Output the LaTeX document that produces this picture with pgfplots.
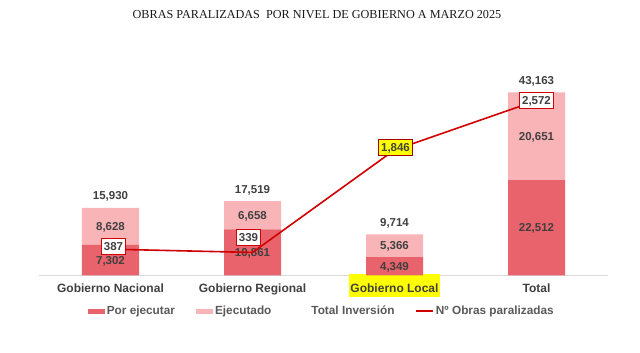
\documentclass[border=0pt]{standalone}
\usepackage{pgfplots}
\pgfplotsset{compat=1.18}
\usepackage{pgfplotstable}
\usepackage{fontspec}
\setmainfont{Liberation Sans}
\newfontfamily\titlefont{Liberation Serif}
\definecolor{pe}{HTML}{E8636B}
\definecolor{ej}{HTML}{F9B4B8}
\definecolor{lin}{HTML}{D00000}
\definecolor{txt}{HTML}{404040}
\definecolor{leg}{HTML}{595959}
\definecolor{axl}{HTML}{D9D9D9}
\definecolor{hl}{HTML}{FFFF00}

\pgfplotstableread{
x pe ej
0 7302 8628
1 10861 6658
2 4349 5366
3 22512 20651
}\bars
\pgfplotstableread{
x y label
0 3651 7,302
1 5430.5 10,861
2 2174.5 4,349
3 11256 22,512
0 11616 8,628
1 14190 6,658
2 7032 5,366
3 32837.5 20,651
}\seglabels
\pgfplotstableread{
x y label
0 15930 15,930
1 17519 17,519
2 9715 9,714
3 43163 43,163
}\totlabels
\pgfplotstableread{
x y
0 387
1 339
2 1846
3 2572
}\obras
\pgfplotstableread{
x y dx dy label
0 387 3 3 387
1 339 -4 15 339
3 2572 0 0 2,572
}\obraslab
\pgfplotstableread{
x y dx dy label
2 1846 1 3 1,846
}\obraslabb

\tikzset{lab/.style={font=\bfseries\fontsize{11.5}{13}\selectfont, text=txt,
    text height=8.3pt, text depth=0pt, inner sep=0pt}}
\pgfplotsset{
  base/.style={at={(39.5pt,77.5pt)}, anchor=south west, scale only axis,
    width=568pt, height=240pt, xmin=-0.5, xmax=3.5, clip=false},
  hid/.style={base, hide axis},
}

\begin{document}
\begin{tikzpicture}
\useasboundingbox (0,0) rectangle (640pt,353pt);
\begin{axis}[base, ymin=0, ymax=56600,
  ybar stacked, bar width=57pt,
  axis x line=bottom, axis y line=none,
  axis line style={draw=axl, line width=0.8pt, -},
  xtick={0,1,2,3}, ytick=\empty, major tick length=0pt,
  xticklabels={Gobierno Nacional, Gobierno Regional,
    {{\setlength{\fboxsep}{1pt}\colorbox{hl}{\rule[-3.5pt]{0pt}{20.5pt}Gobierno Local}}}, Total},
  xticklabel style={font=\bfseries\fontsize{12}{14}\selectfont, text=txt, anchor=base, yshift=-17pt, inner sep=0pt},
  legend columns=4,
  legend style={at={(0.497,-0.148)}, anchor=center, draw=none, fill=none,
    font=\bfseries\fontsize{11.8}{13}\selectfont, text=leg,
    /tikz/every even column/.append style={column sep=19pt},
    /tikz/every odd column/.append style={column sep=0pt}},
]
\addplot[fill=pe, draw=none,
  legend image code/.code={\fill[pe] (0pt,-2.5pt) rectangle (17pt,2.5pt);}]
  table[x=x, y=pe]{\bars};
\addlegendentry{Por ejecutar}
\addplot[fill=ej, draw=none,
  legend image code/.code={\fill[ej] (0pt,-2.5pt) rectangle (17pt,2.5pt);}]
  table[x=x, y=ej]{\bars};
\addlegendentry{Ejecutado}
\addlegendimage{draw=none, legend image code/.code={\path (0pt,0pt) rectangle (17pt,0pt);}}
\addlegendentry{Total Inversión}
\addlegendimage{legend image code/.code={\draw[lin, line width=1.5pt] (0pt,0pt) -- (17pt,0pt);}}
\addlegendentry{Nº Obras paralizadas}
\end{axis}

\begin{axis}[hid, ymin=0, ymax=56600]
\addplot[only marks, mark=none, nodes near coords, point meta=explicit symbolic,
  nodes near coords style={lab, anchor=center}]
  table[x=x, y=y, meta=label]{\seglabels};
\addplot[only marks, mark=none, nodes near coords, point meta=explicit symbolic,
  nodes near coords style={lab, anchor=south, yshift=8pt}]
  table[x=x, y=y, meta=label]{\totlabels};
\end{axis}

\begin{axis}[hid, ymin=0, ymax=3529.4]
\addplot[lin, line width=1.6pt, mark=none] table[x=x, y=y]{\obras};
\addplot[only marks, mark=none, nodes near coords, point meta=explicit symbolic,
  visualization depends on={\thisrow{dx} \as \dx},
  visualization depends on={\thisrow{dy} \as \dy},
  nodes near coords style={lab, anchor=center, draw=lin, line width=0.7pt, fill=white,
    inner xsep=2.5pt, inner ysep=3.8pt, xshift=\dx pt, yshift=\dy pt}]
  table[x=x, y=y, meta=label]{\obraslab};
\addplot[only marks, mark=none, nodes near coords, point meta=explicit symbolic,
  visualization depends on={\thisrow{dx} \as \dx},
  visualization depends on={\thisrow{dy} \as \dy},
  nodes near coords style={lab, anchor=center, draw=lin!80!black, line width=0.7pt, fill=hl,
    inner xsep=2.5pt, inner ysep=3.8pt, xshift=\dx pt, yshift=\dy pt}]
  table[x=x, y=y, meta=label]{\obraslabb};
\end{axis}

\node[font=\titlefont\fontsize{12.2}{14}\selectfont, text=black!90] at (317pt,338pt)
  {OBRAS PARALIZADAS\ \ POR NIVEL DE GOBIERNO A MARZO 2025};
\end{tikzpicture}
\end{document}
